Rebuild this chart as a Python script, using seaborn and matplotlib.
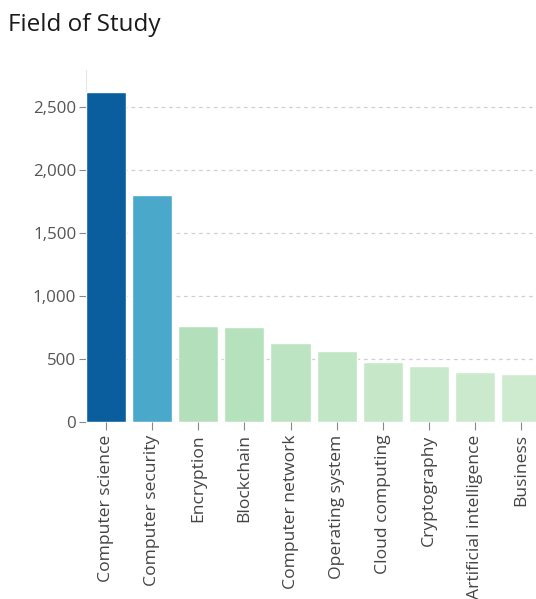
import matplotlib
matplotlib.use("Agg")
import matplotlib.pyplot as plt
import seaborn as sns
import pandas as pd

# DATA

fields = ["Computer science", "Computer security", "Encryption", "Blockchain",
          "Computer network", "Operating system", "Cloud computing",
          "Cryptography", "Artificial intelligence", "Business"]
counts = [2620, 1802, 762, 756, 630, 566, 474, 447, 397, 378]
colors = ["#0b5e9e", "#4aa8cb", "#b3e0bb", "#b6e1bd", "#bde4c2", "#c1e6c5",
          "#c6e8c9", "#c8e9cb", "#cbeacd", "#ceebd0"]

df = pd.DataFrame({"field": fields, "count": counts})

# PLOT

sns.set_style("white")
plt.rcParams["font.family"] = ["Open Sans", "DejaVu Sans"]

fig = plt.figure(figsize=(5.36, 5.99), dpi=100)
ax = fig.add_axes([86 / 536, 1 - 422 / 599, 1 - 86 / 536, (422 - 70) / 599])

sns.barplot(data=df, x="field", y="count", hue="field", palette=colors,
            legend=False, width=0.87, saturation=1, ax=ax, zorder=3)

ax.set_xlim(-0.44, 9.33)
ax.set_ylim(0, 2794)
ax.set_yticks([0, 500, 1000, 1500, 2000, 2500])
ax.set_yticklabels(["0", "500", "1,000", "1,500", "2,000", "2,500"])
ax.yaxis.grid(True, linestyle=(0, (3, 3)), color="#d0d0d0", linewidth=0.9, zorder=0)
ax.set_axisbelow(True)

for s in ["top", "right", "bottom"]:
    ax.spines[s].set_visible(False)
ax.spines["left"].set_color("#e6e6e6")
ax.spines["left"].set_linewidth(0.8)

ax.tick_params(axis="y", left=True, length=5, width=0.8, color="#888888",
               labelcolor="#555555", labelsize=12.2, pad=2)
ax.tick_params(axis="x", bottom=True, length=6, width=0.8, color="#888888",
               labelcolor="#444444", labelsize=12.6, pad=3, labelrotation=90)
ax.set_xlabel("")
ax.set_ylabel("")

fig.text(8 / 536, 1 - 25 / 599, "Field of Study", fontsize=17.5, color="#1a1a1a",
         va="center", ha="left")

fig.savefig("out.png", dpi=100)
